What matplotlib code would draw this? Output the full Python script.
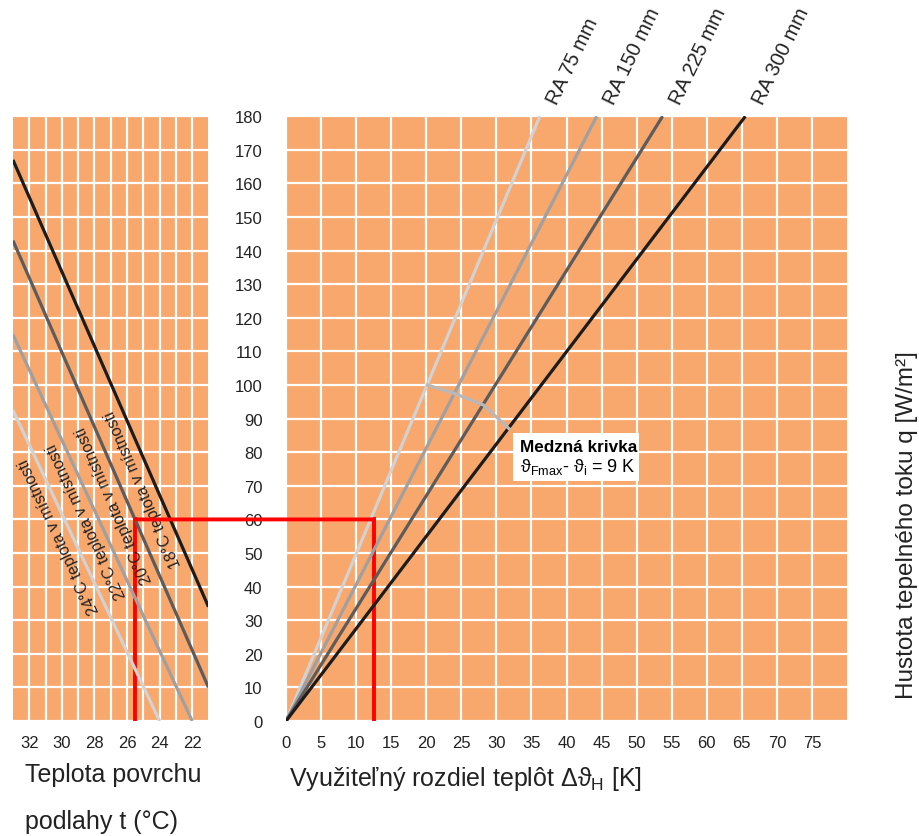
import matplotlib.pyplot as plt
import numpy as np
from matplotlib.patches import ConnectionPatch, Rectangle

plt.rcParams.update({
    "font.family": ["Liberation Sans", "DejaVu Sans"],
    "font.size": 12,
    "mathtext.fontset": "custom",
    "mathtext.rm": "Liberation Sans",
    "mathtext.it": "Liberation Sans:italic",
})

# right panel: heat flux q vs usable temperature difference, per pipe spacing
ra_labels = ["RA 75 mm", "RA 150 mm", "RA 225 mm", "RA 300 mm"]
ra_dt_at_180 = [36.2, 44.3, 53.7, 65.5]
line_colors = ["#d2d2d2", "#a0a0a0", "#5c5c5c", "#1c1c1c"]

# limit curve (theta_Fmax - theta_i = 9 K)
limit_dt = [20.2, 24.0, 28.2, 31.8]
limit_q = [100, 97.5, 94, 87]

# left panel: heat flux q vs floor surface temperature, per room temperature
room_labels = ["18°C teplota v místnosti", "20°C teplota v místnosti",
               "22°C teplota v místnosti", "24°C teplota v místnosti"]
room_t = [[33, 21], [33, 21], [33, 22], [33, 24]]
room_q = [[167, 34], [143, 10], [115, 0], [92.5, 0]]
room_label_t = [25.0, 26.8, 28.5, 30.15]
room_label_q = [69.3, 64.6, 59.6, 55.1]
room_colors = line_colors[::-1]

# worked example (red)
ex_q = 60
ex_dt = 12.5
ex_t = 25.5

q_ticks = np.arange(0, 181, 10)
dt_ticks = np.arange(0, 76, 5)
t_ticks = [32, 30, 28, 26, 24, 22]

orange = "#f8a76d"
red = "#ff0000"
txt = "#222222"

fig = plt.figure(figsize=(9.2, 8.37), dpi=100)
axl = fig.add_axes([0.0141, 0.1374, 0.2125, 0.7225])
axr = fig.add_axes([0.3109, 0.1374, 0.6098, 0.7225])

for ax in (axl, axr):
    ax.set_facecolor(orange)
    for s in ax.spines.values():
        s.set_visible(False)
    ax.set_ylim(0, 180)
    ax.set_yticks(q_ticks)
    ax.grid(True, which="both", color="white", linewidth=1.6)
    ax.set_axisbelow(True)
    ax.tick_params(which="both", length=0, labelsize=12, labelcolor=txt)
    ax.tick_params(axis="x", pad=10)

# left panel
axl.set_xlim(33, 21)
axl.set_xticks(t_ticks)
axl.set_xticks(np.arange(22, 33, 1), minor=True)
axl.tick_params(labelleft=False)

for lab, t, q, lt, lq, c in zip(room_labels, room_t, room_q,
                                room_label_t, room_label_q, room_colors):
    axl.plot(t, q, color=c, lw=2.3, solid_capstyle="butt", zorder=3)
    p = axl.transData.transform([[t[0], q[0]], [t[1], q[1]]])
    ang = np.degrees(np.arctan2(p[1, 1] - p[0, 1], p[1, 0] - p[0, 0])) + 180
    axl.text(lt, lq, lab, rotation=ang, rotation_mode="anchor",
             ha="center", va="center", fontsize=11.5, color=txt, zorder=4)

axl.plot([ex_t, ex_t], [0, ex_q], color=red, lw=2.8, zorder=2.5)

axl.text(0.06, -0.088, "Teplota povrchu", transform=axl.transAxes,
         fontsize=18, color=txt, va="center", ha="left")
axl.text(0.06, -0.166, "podlahy t (°C)", transform=axl.transAxes,
         fontsize=18, color=txt, va="center", ha="left")

# right panel
axr.set_xlim(0, 80)
axr.set_xticks(dt_ticks)
axr.tick_params(axis="y", pad=17)

axr.plot([ex_dt, ex_dt], [0, ex_q], color=red, lw=2.8, zorder=2.5)

for lab, dt, c in zip(ra_labels, ra_dt_at_180, line_colors):
    axr.plot([0, dt], [0, 180], color=c, lw=2.3, solid_capstyle="butt", zorder=3)
    axr.annotate(lab, xy=(dt, 180), xytext=(15, 6.5), textcoords="offset points",
                 rotation=64, rotation_mode="anchor", ha="left", va="bottom",
                 fontsize=14.5, color=txt, annotation_clip=False)

axr.plot(limit_dt, limit_q, color="#b8b8b8", lw=2.3, zorder=3)

axr.add_patch(Rectangle((32.4, 71.4), 17.9, 14.3, facecolor="white",
                        edgecolor="none", zorder=4))
axr.text(33.4, 81.8, "Medzná krivka", fontsize=12.3, fontweight="bold",
         color="black", va="center", ha="left", zorder=5)
axr.text(33.4, 75.9, r"ϑ$_{\rm Fmax}$- ϑ$_{\rm i}$ = 9 K", fontsize=13,
         color="black", va="center", ha="left", zorder=5)

con = ConnectionPatch(xyA=(ex_t, ex_q), coordsA=axl.transData,
                      xyB=(ex_dt, ex_q), coordsB=axr.transData,
                      color=red, lw=2.8)
fig.add_artist(con)

axr.text(0.005, -0.094, r"Využiteľný rozdiel teplôt Δϑ$_{\rm H}$ [K]",
         transform=axr.transAxes, fontsize=18, color=txt, va="center", ha="left")
axr.set_ylabel("Hustota tepelného toku q [W/m²]", fontsize=17.5, color=txt)
axr.yaxis.set_label_position("right")
axr.yaxis.set_label_coords(1.088, 0.325)

fig.savefig("out.png", dpi=100)
